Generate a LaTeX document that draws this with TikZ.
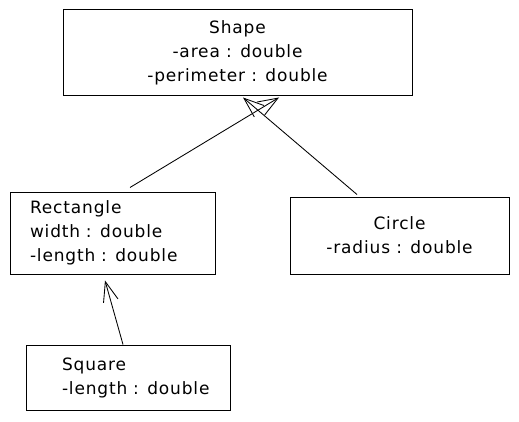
\documentclass[tikz,border=0pt]{standalone}
\usepackage{fontspec}
\setmainfont{DejaVu Sans}[LetterSpace=5]
\usetikzlibrary{arrows.meta}
\tikzstyle{cls}=[draw=black,line width=.035cm,rectangle,inner sep=0pt]
\tikzstyle{arrow}=[-{Straight Barb[length=20pt,width=15pt]},line width=.03cm,draw=black]

\begin{document}
\begin{tikzpicture}[x=1pt,y=-1pt,font=\fontsize{17}{24}\selectfont]
	\useasboundingbox (0,0) rectangle (519,422);

	%classes
	\node[cls,minimum width=349pt,minimum height=85pt,align=center] (shp) at (237.5,52.5)
		{Shape\\-area : double\\-perimeter : double};
	\node[cls,minimum width=205pt,minimum height=82pt,text width=165pt,align=left] (rect) at (112.5,233)
		{Rectangle\\\mbox{width : double}\\\mbox{-length : double}};
	\node[cls,minimum width=219pt,minimum height=77pt,align=center] (circ) at (399.5,235.5)
		{Circle\\-radius : double};
	\node[cls,minimum width=204pt,minimum height=65pt,text width=132pt,align=left] (sqr) at (128,377.5)
		{Square\\\mbox{-length : double}};

	%inheritance
	\draw[arrow] ([xshift=17.5pt,yshift=4pt]rect.north) -- ([xshift=41.5pt,yshift=-2pt]shp.south);
	\draw[arrow] ([xshift=-42.5pt,yshift=2pt]circ.north) -- ([xshift=5.5pt,yshift=-2pt]shp.south);
	\draw[arrow] ([xshift=-5pt]sqr.north) -- ([xshift=-7.5pt,yshift=-6pt]rect.south);
\end{tikzpicture}
\end{document}
